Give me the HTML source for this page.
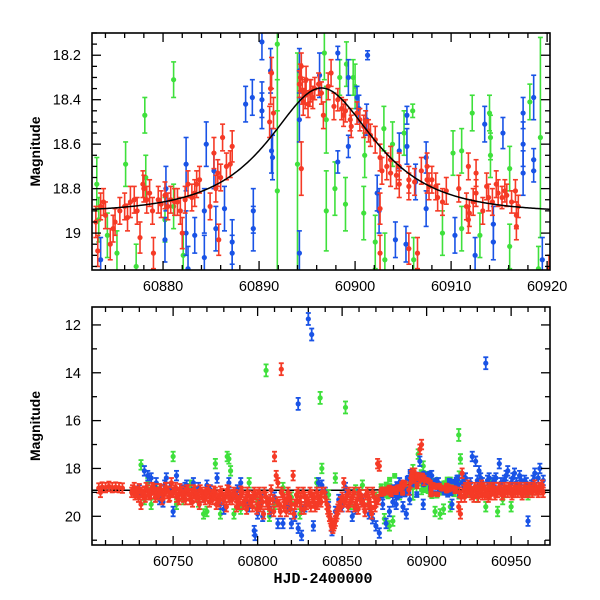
<!DOCTYPE html>
<html><head><meta charset="utf-8"><style>
body{margin:0;background:#fff;}
svg{display:block;font-family:"Liberation Sans",sans-serif;}
</style></head><body>
<svg id="chart" width="600" height="600"></svg>
<script>
// ---------- DATA ----------
const topRed=[[60873,18.95,.07],[60873.2,19.08,.07],[60873.5,18.88,.06],[60874,18.92,.06],[60874.5,19.05,.07],[60875,18.95,.06],[60875.5,18.9,.06],[60876,18.88,.06],[60876.3,18.93,.06],[60877,18.85,.06],[60877.3,18.9,.06],[60877.6,19.02,.07],[60878,18.8,.06],[60878.3,18.85,.06],[60878.6,18.82,.06],[60879,19.09,.07],[60879.5,18.85,.06],[60879.8,18.87,.06],[60880.5,18.88,.06],[60880.8,18.85,.06],[60881.2,18.86,.06],[60881.5,18.86,.06],[60882,19.0,.07],[60882.3,18.85,.06],[60882.6,18.78,.06],[60883,18.84,.06],[60883.3,18.82,.06],[60883.5,18.78,.06],[60885.3,18.64,.07],[60885.5,18.8,.06],[60885.7,18.73,.06],[60886,18.75,.06],[60886.2,18.57,.06],[60885.8,19.03,.07],[60887.2,18.61,.07],[60887,18.69,.06],[60891.3,18.28,.07],[60891.2,18.35,.07],[60891.5,18.46,.07],[60894.4,18.25,.06],[60894.3,18.3,.06],[60894.5,18.36,.06],[60894.4,18.71,.12],[60894.6,18.41,.06],[60894.8,18.38,.06],[60895.1,18.42,.06],[60895.3,18.37,.06],[60895.4,18.36,.05],[60895.6,18.39,.05],[60896.5,18.37,.05],[60896.7,18.47,.06],[60897.5,18.28,.06],[60898.2,18.4,.05],[60898.6,18.44,.05],[60898.8,18.47,.05],[60899.5,18.49,.05],[60899.6,18.52,.05],[60900.5,18.49,.05],[60900.9,18.52,.05],[60901.4,18.54,.05],[60901.6,18.56,.05],[60902.6,18.66,.06],[60902.6,18.89,.07],[60902.8,18.72,.06],[60903.7,18.67,.06],[60903.7,18.73,.06],[60904.6,18.7,.06],[60904.6,18.78,.06],[60905.6,18.79,.06],[60905.6,18.76,.06],[60905.6,19.07,.07],[60906.5,19.09,.07],[60907.5,18.7,.06],[60907.5,18.76,.06],[60907.7,18.79,.06],[60908.4,18.79,.06],[60908.6,18.84,.06],[60909.5,18.81,.06],[60911.6,18.88,.06],[60911.8,18.94,.06],[60911.8,18.7,.06],[60911.9,18.91,.06],[60912.6,18.73,.06],[60912.6,18.82,.06],[60913.7,18.79,.06],[60913.9,18.84,.06],[60914.7,18.78,.06],[60914.9,18.82,.06],[60915.6,18.81,.05],[60915.8,18.83,.05],[60916.7,18.81,.05],[60916.8,18.97,.06],[60916.8,18.92,.06],[60902.6,19.09,.08],[60920.2,19.16,.06],
[60873.8,18.86,.06],[60874.8,18.98,.06],[60876.6,18.86,.07],[60877.9,18.78,.06],[60878.9,18.9,.06],[60880.2,18.83,.06],[60881.8,18.9,.06],[60883.8,18.76,.06],[60884.9,18.88,.06],[60886.6,18.7,.06],[60891.1,18.5,.07],[60894.2,18.33,.06],[60894.9,18.31,.06],[60895.8,18.35,.05],[60896.2,18.33,.05],[60897.2,18.34,.06],[60897.8,18.43,.06],[60899,18.45,.05],[60900.2,18.46,.05],[60901.1,18.5,.05],[60902.1,18.58,.06],[60903.3,18.7,.06],[60904.3,18.74,.06],[60906.2,18.77,.06],[60906.9,18.72,.06],[60908,18.76,.06],[60909.1,18.86,.06],[60910.8,18.8,.06],[60912.3,18.86,.06],[60913.3,18.9,.06],[60914.3,18.86,.06],[60915.3,18.84,.05],[60916.3,18.86,.05],[60917,18.88,.05]];
const topBlue=[[60873.5,19.12,.1],[60880.2,19.03,.1],[60880.3,18.8,.1],[60882.4,18.69,.12],[60882.4,19.0,.1],[60882.6,19.16,.1],[60883.3,19.01,.08],[60884.3,18.9,.1],[60884.3,19.11,.1],[60884.5,18.6,.1],[60885.3,18.72,.08],[60885.5,18.98,.1],[60886.4,18.89,.1],[60887.2,19.04,.1],[60887.2,19.09,.08],[60888.6,18.42,.08],[60889.3,18.39,.08],[60889.4,18.9,.1],[60889.4,18.98,.1],[60890.3,18.14,.08],[60890.3,18.4,.08],[60890.3,18.45,.08],[60891.2,18.27,.1],[60891.3,18.63,.1],[60891.4,18.66,.1],[60894.2,18.27,.1],[60894.2,18.49,.1],[60894.2,19.09,.1],[60896.3,18.29,.1],[60898.2,18.19,.03],[60898.2,18.68,.05],[60899.3,18.3,.08],[60899.3,18.61,.05],[60900.2,18.39,.05],[60900.4,18.44,.06],[60901.2,18.49,.07],[60901.3,18.2,.02],[60902.3,18.82,.08],[60902.5,18.9,.1],[60904.2,19.03,.08],[60904.6,18.63,.08],[60905.3,19.05,.08],[60905.4,18.47,.04],[60905.4,18.61,.08],[60906.3,18.77,.08],[60907.4,18.66,.07],[60907.4,18.89,.08],[60910.4,19.01,.08],[60912.5,19.1,.08],[60913.5,18.51,.08],[60914.4,18.96,.08],[60914.4,19.04,.08],[60915.4,18.55,.07],[60917.5,18.46,.07],[60917.5,18.6,.1],[60917.5,18.73,.1],[60918.6,18.39,.1],[60918.6,18.67,.05],[60918.6,18.72,.05],[60919.5,19.12,.1]];
const topGreen=[[60873.1,18.78,.12],[60873.3,18.94,.1],[60874.2,19.01,.1],[60875.2,19.09,.1],[60876.1,18.69,.1],[60877.2,19.15,.1],[60878.1,18.47,.08],[60878.2,18.75,.1],[60881.1,18.31,.08],[60881.1,18.88,.1],[60880.2,18.94,.1],[60882.1,19.1,.1],[60891.9,18.81,.5],[60891.9,18.15,.3],[60894,18.69,.5],[60896.8,18.19,.12],[60897,18.49,.15],[60897,18.9,.18],[60897.9,18.8,.12],[60898.4,18.3,.08],[60899,18.87,.12],[60899.1,18.24,.1],[60899.8,18.3,.08],[60900,18.34,.1],[60900.9,18.91,.12],[60901,18.65,.1],[60902.1,19.04,.12],[60903,18.53,.1],[60903.1,19.12,.12],[60903.9,18.6,.1],[60905.1,18.55,.1],[60906,18.45,.03],[60906.1,19.12,.1],[60909.1,19.0,.1],[60910.2,18.64,.1],[60911.1,18.63,.1],[60911.1,18.98,.1],[60912.2,18.46,.08],[60913,19.01,.1],[60914,18.46,.08],[60914.1,18.57,.1],[60914.1,18.65,.1],[60916.1,18.71,.1],[60916.1,19.06,.1],[60918.2,18.41,.08],[60919.3,18.57,.45],[60919.1,19.16,.1]];
// Bottom panel: [HJD-2400000, magnitude]
const allRed=[[60706,18.82],[60707,19.0],[60708,18.78],[60710,18.8],[60712,18.75],[60714,18.8],[60716,18.78],[60718,18.8],[60720,18.82],[60726,18.9],[60727,18.8],[60728,19.0],[60729,18.95],[60730,18.85],[60731,19.5],[60732,19.1],[60733,18.95],[60734,18.8],[60735,18.9],[60736,19.1],[60737,19.05],[60738,18.9],[60739,18.85],[60740,19.1],[60741,19.0],[60742,18.85],[60743,18.9],[60744,19.1],[60745,19.05],[60746,18.8],[60747,18.95],[60748,19.15],[60749,18.6],[60750,19.0],[60751,18.9],[60752,19.2],[60753,19.1],[60754,18.85],[60755,18.95],[60756,19.2],[60757,19.0],[60758,18.9],[60759,18.9],[60760,19.3],[60761,19.05],[60762,18.9],[60763,18.95],[60764,19.1],[60765,19.2],[60766,18.9],[60767,19.0],[60768,19.1],[60769,19.3],[60770,19.05],[60771,18.9],[60772,19.2],[60773,19.1],[60774,18.95],[60775,19.0],[60776,19.3],[60777,19.4],[60778,18.95],[60779,19.05],[60780,19.3],[60781,19.2],[60782,18.9],[60783,18.95],[60784,19.2],[60785,19.3],[60786,19.0],[60787,19.1],[60788,19.4],[60789,19.5],[60790,18.95],[60791,19.0],[60792,19.4],[60793,19.3],[60794,19.0],[60795,19.15],[60796,19.3],[60797,19.6],[60798,19.0],[60799,19.1],[60800,19.5],[60801,19.0],[60802,19.2],[60803,19.4],[60804,19.0],[60805,19.2],[60806,19.5],[60807,19.7],[60808,18.9],[60809,19.3],[60810,17.5],[60811,18.3],[60812,18.6],[60813,19.5],[60814,19.0],[60815,19.1],[60816,19.4],[60817,19.8],[60818,19.0],[60819,19.2],[60820,19.5],[60821,18.3],[60822,19.5],[60823,19.1],[60824,19.0],[60825,19.4],[60826,19.7],[60827,19.0],[60828,19.2],[60829,19.5],[60830,19.4],[60831,19.0],[60832,19.1],[60833,19.4],[60834,19.6],[60835,19.0],[60836,19.2],[60837,19.3],[60838,19.0],[60840,19.2],[60841,19.5],[60842,19.8],[60843,20.1],[60844,20.3],[60845,20.4],[60846,20.2],[60847,19.9],[60848,19.6],[60849,19.4],[60850,19.2],[60851,18.6],[60852,19.3],[60853,19.1],[60854,19.0],[60855,19.4],[60856,19.2],[60857,19.0],[60858,19.5],[60859,19.3],[60860,19.0],[60861,19.1],[60862,19.4],[60863,19.5],[60864,19.1],[60865,19.0],[60866,19.3],[60867,19.6],[60868,19.0],[60869,19.2],[60870,19.4],[60871,17.8],[60872,17.9],[60891,18.3],[60892,18.4],[60893,18.2],[60896,17.2],[60897,17.0],[60919,19.6],[60920,19.9],[60921,18.2],[60922,18.9],[60923,18.8],[60924,19.0],[60925,18.9],[60926,18.8],[60927,19.0],[60928,19.2],[60929,18.9],[60930,18.9],[60931,18.8],[60932,19.0],[60933,19.1],[60934,18.8],[60935,19.0],[60936,18.9],[60937,18.8],[60938,19.1],[60939,18.9],[60940,18.8],[60941,19.0],[60942,19.0],[60943,18.8],[60944,18.9],[60945,19.1],[60946,18.8],[60947,18.9],[60948,19.0],[60949,18.8],[60950,18.9],[60951,19.0],[60952,18.8],[60953,18.9],[60954,19.0],[60955,18.8],[60956,18.9],[60957,19.0],[60958,18.8],[60959,18.9],[60960,19.0],[60961,18.8],[60962,18.9],[60963,18.8],[60964,18.7],[60965,18.9],[60966,19.0],[60967,18.8],[60968,18.9],[60969,19.0],[60814,13.85]];
const allRed2=[[60725.5,19.0],[60727.5,19.1],[60729.5,19.2],[60731.5,19.0],[60733.5,19.2],[60735.5,19.1],[60737.5,18.8],[60739.5,19.2],[60741.5,19.1],[60743.5,19.3],[60745.5,18.8],[60747.5,19.2],[60749.5,19.0],[60751.5,18.8],[60753.5,19.3],[60755.5,19.1],[60757.5,19.3],[60759.5,19.1],[60761.5,19.4],[60763.5,19.2],[60765.5,19.5],[60767.5,19.2],[60769.5,19.0],[60771.5,19.4],[60773.5,19.3],[60775.5,19.5],[60777.5,19.1],[60779.5,19.3],[60781.5,19.6],[60783.5,19.3],[60785.5,19.1],[60787.5,19.6],[60789.5,19.2],[60791.5,19.5],[60793.5,19.7],[60795.5,19.4],[60797.5,19.2],[60799.5,19.7],[60801.5,19.6],[60803.5,19.9],[60805.5,19.4],[60807.5,19.3],[60809.5,19.8],[60811.5,19.4],[60813.5,19.8],[60815.5,19.6],[60817.5,19.3],[60819.5,19.7],[60821.5,19.9],[60823.5,19.4],[60825.5,19.2],[60827.5,19.7],[60829.5,19.3],[60831.5,19.6],[60833.5,19.2],[60835.5,19.5],[60837.5,19.4],[60839.5,19.0],[60841.5,19.7],[60842.5,20.0],[60843.5,20.4],[60844.5,20.5],[60845.5,20.3],[60846.5,20.0],[60847.5,19.7],[60849.5,19.6],[60851.5,19.4],[60853.5,19.6],[60855.5,19.3],[60857.5,19.6],[60859.5,19.7],[60861.5,19.4],[60863.5,19.8],[60865.5,19.5],[60867.5,19.9],[60869.5,19.6],[60871.5,19.3],[60889.5,18.9],[60890.5,18.6],[60891.5,18.2],[60892.5,18.3],[60893.5,18.4],[60895.5,18.4],[60898.5,18.5],[60919.5,19.0],[60920.5,19.2],[60922.5,19.2],[60924.5,18.7],[60926.5,19.1],[60928.5,18.8],[60930.5,19.2],[60932.5,18.7],[60934.5,19.1],[60936.5,19.2],[60938.5,18.8],[60940.5,19.1],[60942.5,18.8],[60944.5,19.1],[60946.5,19.0],[60948.5,18.8],[60950.5,19.1],[60952.5,19.0],[60954.5,18.8],[60956.5,19.1],[60958.5,19.0],[60960.5,18.8],[60962.5,19.0],[60964.5,18.9],[60966.5,18.8],[60968.5,18.7]];
const allBlue=[[60730,18.9],[60733,18.1],[60735,18.3],[60737,18.4],[60740,18.6],[60742,19.3],[60744,19.4],[60746,18.4],[60748,18.8],[60750,19.8],[60752,18.3],[60755,18.9],[60758,18.7],[60762,18.6],[60765,18.8],[60768,19.2],[60772,18.9],[60776,18.4],[60778,19.5],[60780,19.7],[60783,18.6],[60786,19.1],[60790,18.6],[60793,19.4],[60795,19.6],[60798,20.6],[60798.5,20.8],[60800,19.9],[60803,20.0],[60806,19.4],[60808,19.8],[60812,20.3],[60815,20.3],[60818,19.6],[60820,20.3],[60822,20.0],[60824,20.5],[60824,15.3],[60826,20.8],[60830,11.75],[60832,12.4],[60833,20.4],[60836,18.6],[60838,18.7],[60840,19.0],[60842,19.6],[60844,20.6],[60848,19.3],[60852,18.8],[60856,20.0],[60858,19.7],[60862,19.3],[60866,19.9],[60868,20.1],[60870,20.4],[60872,20.7],[60874,19.5],[60876,20.3],[60878,19.8],[60882,19.5],[60884,18.6],[60886,19.6],[60888,19.9],[60890,19.3],[60893,18.4],[60896,17.7],[60898,19.5],[60903,18.3],[60907,18.6],[60912,18.9],[60915,19.5],[60918,18.5],[60922,18.5],[60925,18.7],[60927,17.5],[60929,17.7],[60931,18.1],[60933,18.6],[60935,13.6],[60937,18.4],[60940,18.5],[60943,17.8],[60946,18.5],[60948,18.1],[60950,18.6],[60952,18.2],[60955,18.3],[60958,18.5],[60960,20.2],[60962,18.7],[60964,18.2],[60967,18.0],[60969,18.5],
[60745,18.7],[60757,18.8],[60770,18.7],[60788,18.9],[60802,19.3],[60810,19.2],[60828,19.6],[60846,19.8],[60850,19.6],[60860,19.1],[60880,19.4],[60921,18.6],[60923,18.4],[60926,18.6],[60930,18.5],[60932,18.4],[60936,18.5],[60939,18.6],[60941,18.4],[60944,18.6],[60947,18.3],[60951,18.4],[60953,18.6],[60956,18.5],[60959,18.6],[60963,18.5],[60966,18.4]];
const allGreen=[[60731,17.85],[60733,19.3],[60735,18.6],[60737,19.5],[60740,18.8],[60750,17.5],[60752,19.5],[60756,19.3],[60760,18.7],[60765,19.4],[60768,19.9],[60770,19.8],[60775,17.8],[60778,19.9],[60782,17.5],[60783,17.6],[60784,18.1],[60786,19.9],[60790,19.7],[60795,18.6],[60800,19.4],[60805,13.9],[60807,20.0],[60810,19.5],[60815,18.8],[60820,19.2],[60825,19.9],[60828,19.6],[60835,18.6],[60837,15.05],[60838,18.0],[60842,19.1],[60846,18.4],[60852,15.45],[60855,19.5],[60858,18.9],[60862,18.7],[60866,19.4],[60870,19.2],[60875,20.1],[60878,20.4],[60880,20.2],[60884,19.1],[60888,18.8],[60895,17.4],[60898,17.9],[60905,19.8],[60908,19.9],[60910,19.7],[60914,19.6],[60919,16.6],[60920,17.6],[60925,19.0],[60930,19.2],[60935,19.6],[60938,18.6],[60942,19.8],[60945,19.3],[60950,19.6],[60955,18.8],[60960,19.1],[60963,18.9]];
const topXTicks=[60880,60890,60900,60910,60920];
const topYTicks=[18.2,18.4,18.6,18.8,19];
const botXTicks=[60750,60800,60850,60900,60950];
const botYTicks=[12,14,16,18,20];
const model={base:18.91,t0:60896.5,u0:0.7,tE:8};

// ---------- DRAWING ----------
const NS="http://www.w3.org/2000/svg";
const svg=document.getElementById('chart');
function mk(tag,attrs,parent){const e=document.createElementNS(NS,tag);for(const k in attrs)e.setAttribute(k,attrs[k]);(parent||svg).appendChild(e);return e;}
const COL={red:'#f53a26',blue:'#1953e6',green:'#3fe03c'};
function modelMag(t){const d=(t-model.t0)/model.tE;const u=Math.sqrt(model.u0*model.u0+d*d);const A=(u*u+2)/(u*Math.sqrt(u*u+4));return model.base-2.5*Math.log10(A);}

function panel(cfg){
  const {L,R,T,B,x0,x1,y0,y1,name}=cfg;
  const sx=v=>L+(v-x0)/(x1-x0)*(R-L);
  const sy=v=>T+(v-y0)/(y1-y0)*(B-T);
  const g=mk('g',{});
  
  
  const cid='clip-'+name;
  const cp=mk('clipPath',{id:cid},g);mk('rect',{x:L,y:T,width:R-L,height:B-T},cp);
  const pg=mk('g',{'clip-path':'url(#'+cid+')'},g);
  // model curve (drawn beneath points in bottom panel, above in top)
  let d='';for(let i=0;i<=400;i++){const t=x0+(x1-x0)*i/400;d+=(i?'L':'M')+sx(t).toFixed(2)+','+sy(modelMag(t)).toFixed(2);}
  const drawModel=()=>{const mc=mk('path',{d:d,fill:'none',stroke:'#000','stroke-width':1.5},pg);
    
    };
  if(!cfg.modelOnTop)drawModel();
  const series=[[cfg.green,'green'],[cfg.blue,'blue'],[cfg.red,'red']];
  series.forEach(([arr,c])=>{
    const sg=mk('g',{stroke:COL[c],fill:COL[c],'stroke-width':cfg.sw},pg);
    
    
    arr.forEach(p=>{
      const e=p.length>2?p[2]:cfg.defErr(p[1]);
      const x=sx(p[0]),ya=sy(p[1]-e),yb=sy(p[1]+e);
      mk('line',{x1:x,x2:x,y1:ya,y2:yb},sg);
      mk('line',{x1:x-2.5,x2:x+2.5,y1:ya,y2:ya},sg);
      mk('line',{x1:x-2.5,x2:x+2.5,y1:yb,y2:yb},sg);
      const c2=mk('circle',{cx:x,cy:sy(p[1]),r:cfg.r,stroke:'none'},sg);
      
      
    });
  });
  if(cfg.modelOnTop)drawModel();
  const fr=mk('rect',{x:L,y:T,width:R-L,height:B-T,fill:'none',stroke:'#000','stroke-width':1.6},g);
  
  
  const tg=mk('g',{stroke:'#000','stroke-width':1.3},g);
  for(let v=Math.ceil(x0/cfg.xm)*cfg.xm;v<=x1;v+=cfg.xm){const x=sx(v);const maj=Math.abs(v/cfg.xM-Math.round(v/cfg.xM))<1e-6;const l=maj?9:5;
    mk('line',{x1:x,x2:x,y1:B,y2:B-l},tg);mk('line',{x1:x,x2:x,y1:T,y2:T+l},tg);}
  for(let k=Math.ceil(y0/cfg.ym-1e-9);k*cfg.ym<=y1+1e-9;k++){const v=k*cfg.ym;const y=sy(v);const maj=Math.abs(v/cfg.yM-Math.round(v/cfg.yM))<1e-6;const l=maj?9:5;
    mk('line',{x1:L,x2:L+l,y1:y,y2:y},tg);mk('line',{x1:R,x2:R-l,y1:y,y2:y},tg);}
  cfg.xt.forEach(v=>{const t=mk('text',{x:sx(v),y:B+21,'text-anchor':'middle','font-size':14.5,fill:'#000'},g);t.textContent=v;
    });
  cfg.yt.forEach(v=>{const t=mk('text',{x:L-11,y:sy(v)+5,'text-anchor':'end','font-size':14.5,fill:'#000'},g);t.textContent=v;
    });
  const yl=mk('text',{x:0,y:0,transform:'translate('+(L-52)+','+((T+B)/2)+') rotate(-90)','text-anchor':'middle','font-size':14,'font-weight':'bold',fill:'#000'},g);
  yl.textContent='Magnitude';
  
  
}
panel({name:'zoom-panel',L:92,R:550,T:33,B:270,x0:60872.6,x1:60920.3,y0:18.10,y1:19.166,
  red:topRed,blue:topBlue,green:topGreen,r:2.6,sw:1.6,modelOnTop:true,defErr:()=>.08,xm:2,xM:10,ym:0.05,yM:0.2,xt:topXTicks,yt:topYTicks});
panel({name:'season-panel',L:92,R:550,T:307,B:545,x0:60702,x1:60973,y0:11.25,y1:21.2,
  red:allRed.concat(allRed2,topRed),blue:allBlue.concat(topBlue),green:allGreen.concat(topGreen),r:2.6,sw:1.8,modelOnTop:false,
  defErr:m=>m<17?0.25:0.2,xm:10,xM:50,ym:1,yM:2,xt:botXTicks,yt:botYTicks});
const xl=mk('text',{x:323,y:583,'text-anchor':'middle','font-size':15,'font-weight':'bold',fill:'#000','font-family':'"Liberation Mono",monospace'});
xl.textContent='HJD-2400000';


</script>
</body></html>
